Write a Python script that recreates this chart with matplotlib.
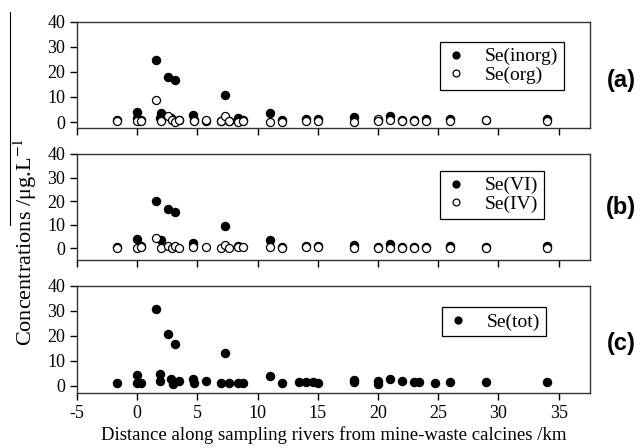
import matplotlib.pyplot as plt
from matplotlib.lines import Line2D

plt.rcParams['font.family'] = 'Liberation Serif'
plt.rcParams['mathtext.fontset'] = 'stix'
plt.rcParams['axes.unicode_minus'] = False

# (a) inorganic / organic Se
inorg_x = [-1.7, 0, 0, 0.3, 1.6, 1.9, 2.0, 2.6, 2.8, 3.1, 3.5, 4.6, 4.7, 5.7, 7.0, 7.3, 7.6,
           8.4, 8.8, 11.0, 12.0, 14.0, 15.0, 18.0, 20.0, 21.0, 22.0, 23.0, 24.0, 26.0, 29.0, 34.0]
inorg_y = [0.8, 4.0, 1.5, 1.0, 24.8, 1.5, 3.7, 18.0, 1.5, 16.7, 0.8, 2.7, 1.0, 0.5, 0.5, 10.7, 0.5,
           1.5, 0.8, 3.7, 1.0, 1.2, 1.3, 1.9, 0.8, 2.5, 0.8, 0.8, 1.2, 1.3, 0.8, 1.3]
org_x = [-1.7, 0, 0.3, 1.6, 2.0, 2.6, 2.9, 3.1, 3.5, 4.7, 5.7, 7.0, 7.3, 7.6, 8.4, 8.8,
         11.0, 12.0, 14.0, 15.0, 18.0, 20.0, 20.0, 21.0, 22.0, 23.0, 24.0, 26.0, 29.0, 34.0]
org_y = [0.5, 0.5, 0.5, 8.8, 0.5, 2.5, 1.0, 0.0, 0.7, 0.3, 1.0, 0.3, 2.3, 0.3, 0.0, 0.5,
         0.0, 0.0, 0.5, 0.3, 0.0, 1.2, 0.3, 0.8, 0.5, 0.5, 0.5, 0.3, 0.8, 0.3]

# (b) Se(VI) / Se(IV)
vi_x = [-1.7, 0, 0.3, 1.6, 2.0, 2.6, 3.1, 4.6, 7.3, 8.4, 11.0, 12.0, 14.0, 15.0,
        18.0, 20.0, 21.0, 22.0, 23.0, 24.0, 26.0, 29.0, 34.0]
vi_y = [0.5, 3.8, 1.0, 20.0, 3.5, 16.8, 15.4, 2.1, 9.4, 0.8, 3.5, 0.6, 0.8, 0.8,
        1.5, 0.6, 1.8, 0.5, 0.5, 0.5, 1.0, 0.5, 1.0]
iv_x = [-1.7, 0, 0.3, 1.6, 2.0, 2.6, 2.9, 3.1, 3.5, 4.6, 5.7, 7.0, 7.3, 7.6, 8.4, 8.8,
        11.0, 12.0, 14.0, 15.0, 18.0, 20.0, 21.0, 22.0, 23.0, 24.0, 26.0, 29.0, 34.0]
iv_y = [0.3, 0.3, 0.5, 4.5, 0.3, 1.0, 0.3, 1.0, 0.3, 0.4, 0.4, 0.3, 1.2, 0.3, 0.4, 0.4,
        0.4, 0.3, 0.4, 0.4, 0.3, 0.3, 0.3, 0.3, 0.3, 0.3, 0.3, 0.3, 0.3]

# (c) total Se
tot_x = [-1.7, 0, 0, 0.3, 1.6, 1.9, 1.9, 2.6, 2.8, 3.0, 3.1, 3.5, 4.6, 4.7, 5.7, 7.0, 7.3, 7.6,
         8.4, 8.8, 11.0, 12.0, 13.4, 14.0, 14.6, 15.0, 18.0, 18.0, 20.0, 20.0, 21.0, 22.0,
         23.0, 23.4, 24.7, 26.0, 29.0, 34.0]
tot_y = [1.3, 4.3, 1.3, 1.3, 30.7, 4.7, 2.0, 20.8, 2.9, 0.7, 16.9, 2.0, 2.9, 1.0, 2.1, 1.0, 13.3, 1.0,
         1.2, 1.2, 4.0, 1.0, 1.4, 1.4, 1.4, 1.0, 1.5, 2.2, 2.0, 0.8, 2.9, 1.8,
         1.5, 1.5, 1.3, 1.5, 1.5, 1.7]

xticks = [-5, 0, 5, 10, 15, 20, 25, 30, 35]
yticks = [0, 10, 20, 30, 40]

fig = plt.figure(figsize=(6.43, 4.48), dpi=100)
ax_a = fig.add_axes([0.1197, 0.7136, 0.7979, 0.238])
ax_b = fig.add_axes([0.1197, 0.4196, 0.7979, 0.2367])
ax_c = fig.add_axes([0.1197, 0.1234, 0.7979, 0.2389])

ms = 5.8
fill = dict(marker='o', ls='none', color='black', ms=ms)
hollow = dict(marker='o', ls='none', mfc='white', mec='black', mew=0.9, ms=ms)

ax_a.plot(inorg_x, inorg_y, label='Se(inorg)', **fill)
ax_a.plot(org_x, org_y, label='Se(org)', **hollow)
ax_b.plot(vi_x, vi_y, label='Se(VI)', **fill)
ax_b.plot(iv_x, iv_y, label='Se(IV)', **hollow)
ax_c.plot(tot_x, tot_y, label='Se(tot)', **fill)

ax_a.set_ylim(-2.5, 40)
ax_b.set_ylim(-5, 40)
ax_c.set_ylim(-2.7, 40)

legend_pos = {ax_a: (0.708, 0.81), ax_b: (0.708, 0.84), ax_c: (0.712, 0.80)}
for ax in (ax_a, ax_b, ax_c):
    ax.set_xlim(-5, 37.6)
    ax.set_xticks(xticks)
    ax.set_yticks(yticks)
    ax.tick_params(direction='out', length=5, width=1, labelsize=13, top=False, right=False)
    for sp in ax.spines.values():
        sp.set_linewidth(1)
        sp.set_color('#333333')
    leg = ax.legend(loc='upper left', bbox_to_anchor=legend_pos[ax], fontsize=14,
                    frameon=True, fancybox=False, edgecolor='black', framealpha=1,
                    handlelength=1.0, handletextpad=1.0, borderpad=0.3,
                    labelspacing=0.05, markerscale=0.85, borderaxespad=0)
    leg.get_frame().set_linewidth(0.9)

ax_a.tick_params(labelbottom=False)
ax_b.tick_params(labelbottom=False)

ax_c.set_xlabel('Distance along sampling rivers from mine-waste calcines /km', fontsize=13.5, labelpad=3)
fig.text(0.04, 0.46, 'Concentrations /μg.L$^{-1}$', rotation=90, fontsize=16,
         ha='center', va='center')
fig.add_artist(Line2D([0.016, 0.016], [1 - 12 / 448, 1 - 225 / 448], color='black', lw=0.8))

for lab, yy in (('(a)', 0.821), ('(b)', 0.536), ('(c)', 0.234)):
    fig.text(0.966, yy, lab, fontfamily='Liberation Sans', fontweight='bold', fontsize=17,
             ha='center', va='center')

fig.savefig('out.png', dpi=100)
